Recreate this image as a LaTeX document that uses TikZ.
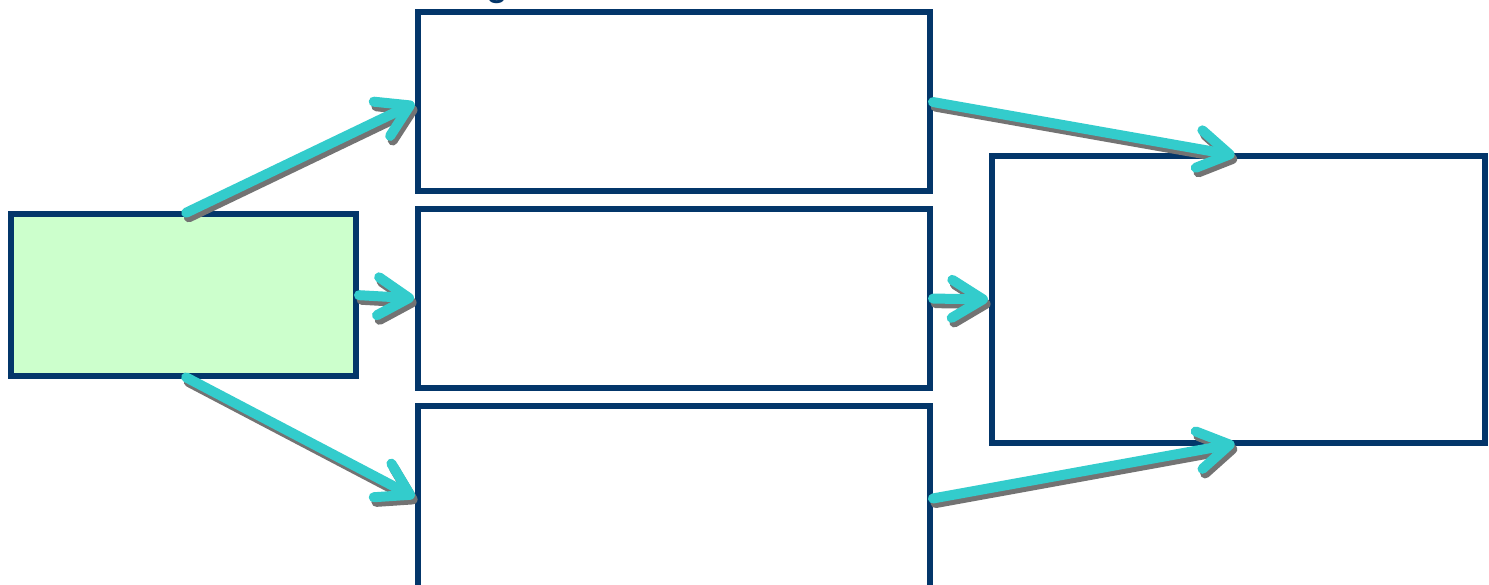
\documentclass[tikz,border=0pt]{standalone}
\usepackage{fontspec}
\setmainfont{Liberation Sans}
\usetikzlibrary{arrows.meta}
\definecolor{navy}{HTML}{03366A}
\definecolor{teal}{HTML}{33CCCC}
\definecolor{mint}{HTML}{CCFFCC}
\tikzset{
  box/.style={draw=navy, line width=3pt, inner sep=0pt, outer sep=0pt, fill=white},
  conn/.style={draw=teal, line width=5pt, line cap=round, shorten >=2pt, shorten <=1.5pt,
    -{Straight Barb[length=15.5pt, width=19pt, round]}},
  shade/.style={conn, draw=black!55}
}
\begin{document}
\begin{tikzpicture}[x=0.5pt, y=-0.5pt]
\useasboundingbox (0,0) rectangle (1489,584);
\node[anchor=base, text=navy, font=\bfseries\fontsize{17}{20}\selectfont] (title) at (497,-4) {g};
\node[box, fill=mint, minimum width=172.5pt, minimum height=81pt] (g) at (183.5,295) {};
\node[box, minimum width=256pt, minimum height=89.5pt] (b1) at (674,101.5) {};
\node[box, minimum width=256pt, minimum height=89.5pt] (b2) at (674,298.5) {};
\node[box, minimum width=256pt, minimum height=93pt] (b3) at (674,499) {};
\node[box, minimum width=246.5pt, minimum height=143.5pt] (r) at (1238.5,299.5) {};
\begin{scope}[transform canvas={shift={(1.3pt,-2.3pt)}}]
  \draw[shade] (g.north) -- (b1.west);
  \draw[shade] (g.east) -- (b2.west);
  \draw[shade] (g.south) -- (b3.west);
  \draw[shade] (b1.east) -- (r.north);
  \draw[shade] (b2.east) -- (r.west);
  \draw[shade] (b3.east) -- (r.south);
\end{scope}
\draw[conn] (g.north) -- (b1.west);
\draw[conn] (g.east) -- (b2.west);
\draw[conn] (g.south) -- (b3.west);
\draw[conn] (b1.east) -- (r.north);
\draw[conn] (b2.east) -- (r.west);
\draw[conn] (b3.east) -- (r.south);
\end{tikzpicture}
\end{document}
